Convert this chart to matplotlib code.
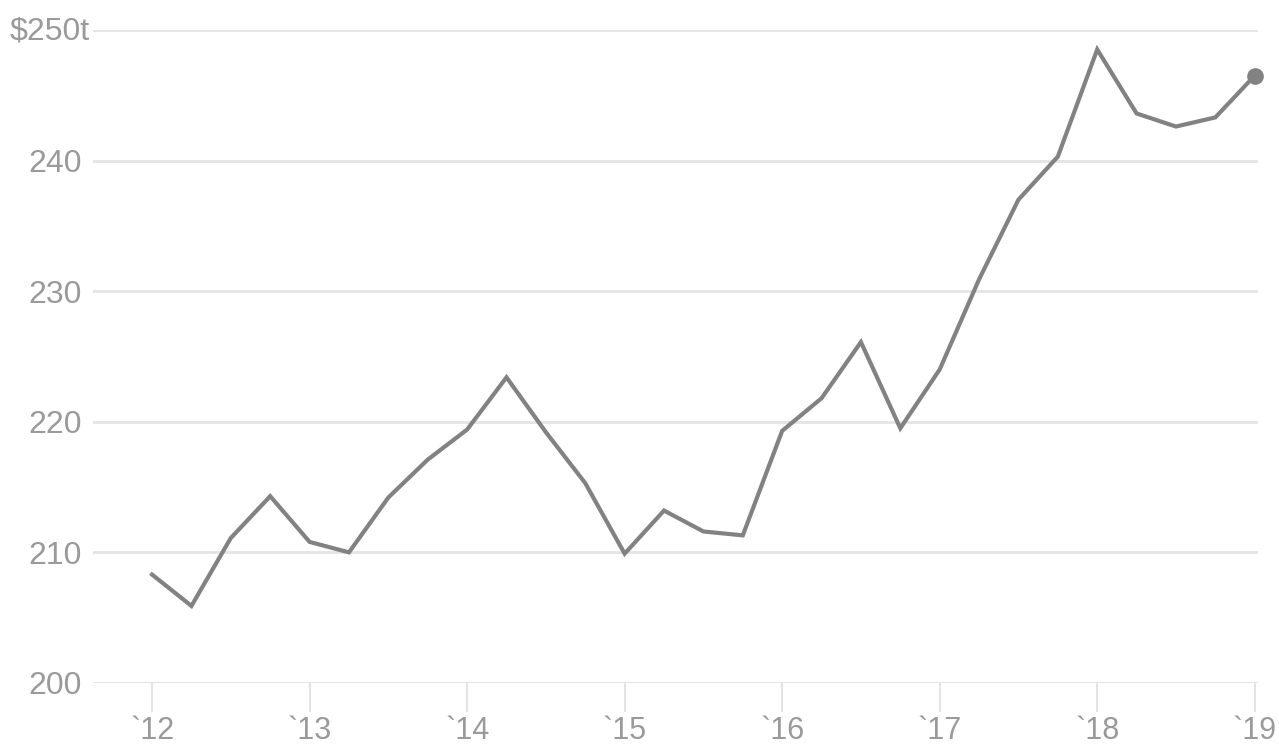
import matplotlib.pyplot as plt
import numpy as np

# quarterly values, 2012 Q1 .. 2019 Q1 (trillions $)
values = [208.3, 205.9, 211.1, 214.3, 210.8, 210.0, 214.2, 217.1, 219.4,
          223.4, 219.2, 215.3, 209.9, 213.2, 211.6, 211.3, 219.3, 221.8,
          226.1, 219.5, 224.0, 230.9, 237.0, 240.3, 248.5, 243.6, 242.6,
          243.3, 246.5]
years = np.arange(2012, 2019.01, 0.25)
year_ticks = list(range(2012, 2020))
year_labels = [f"`{y % 100}" for y in year_ticks]
y_ticks = [200, 210, 220, 230, 240, 250]
y_labels = ['200', '210', '220', '230', '240', '']

plt.rcParams['font.family'] = ['Liberation Sans', 'DejaVu Sans']
text_color = '#9a9a9a'
grid_color = '#e4e4e4'

fig = plt.figure(figsize=(12.79, 7.47), dpi=100)
ax = fig.add_axes([0.0727, 0.0857, 0.9108, 0.8743])

ax.set_xlim(2012 - 0.375, 2019.02)
ax.set_ylim(200, 250)

for v in y_ticks:
    ax.axhline(v, color=grid_color, lw=2, zorder=0)

ax.plot(years, values, color='#828282', lw=3, solid_joinstyle='miter', clip_on=False, zorder=3)
ax.plot(years[-1], values[-1], 'o', color='#828282', ms=11, clip_on=False, zorder=4)

for s in ax.spines.values():
    s.set_visible(False)

ax.set_xticks(year_ticks)
ax.set_xticklabels(year_labels)
ax.tick_params(axis='x', length=21, width=1.5, color=grid_color, pad=3,
               labelsize=22, labelcolor=text_color)

ax.set_yticks(y_ticks)
ax.set_yticklabels(y_labels)
ax.tick_params(axis='y', length=0, pad=8, labelsize=23, labelcolor=text_color)
ax.text(10 / 1279, 1 - 31 / 747, '$250t', transform=fig.transFigure,
        ha='left', va='center', fontsize=23, color=text_color)

fig.savefig('out.png', dpi=100)
